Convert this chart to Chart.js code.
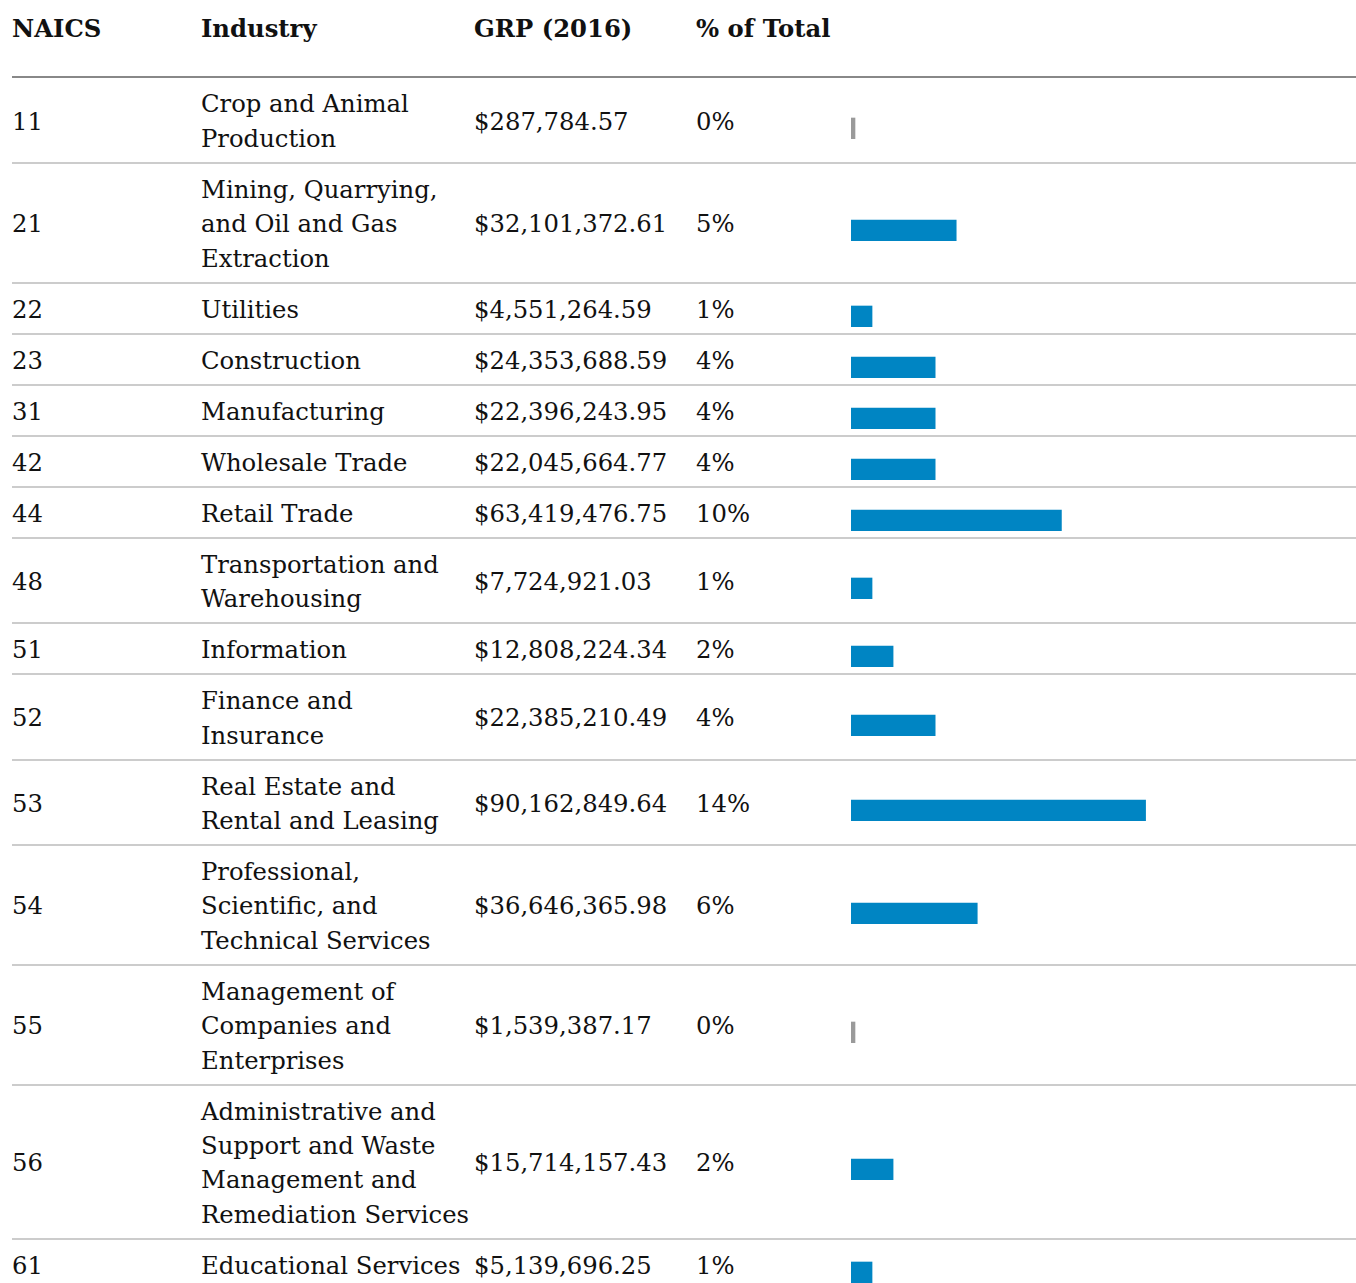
<!DOCTYPE html>
<html><head><meta charset="utf-8">
<script src="https://cdn.jsdelivr.net/npm/chart.js@4/dist/chart.umd.min.js"></script>
<style>
html,body{margin:0;padding:0;background:#fff;}
body{font-family:"DejaVu Serif",serif;font-size:24.3px;color:#111;}
table{position:absolute;left:12px;top:0;width:1344px;border-collapse:collapse;table-layout:fixed;}
th,td{padding:9px 0 5.58px 0;text-align:left;vertical-align:middle;line-height:34.42px;white-space:nowrap;}
th{font-weight:bold;padding:12px 0 30px 0;border-bottom:2px solid #888;}
td{border-bottom:2px solid #ccc;}
.barbox{position:relative;width:505px;height:34px;}
</style></head><body>
<table id="t"><colgroup><col style="width:189px"><col style="width:273px"><col style="width:222px"><col style="width:155px"><col style="width:505px"></colgroup>
<thead><tr id="hr"></tr></thead>
<tbody id="tb"></tbody></table>
<script>
const headers = ["NAICS", "Industry", "GRP (2016)", "% of Total", ""];
const naicsCodes = ["11","21","22","23","31","42","44","48","51","52","53","54","55","56","61"];
const industries = [
  ["Crop and Animal","Production"],
  ["Mining, Quarrying,","and Oil and Gas","Extraction"],
  ["Utilities"],
  ["Construction"],
  ["Manufacturing"],
  ["Wholesale Trade"],
  ["Retail Trade"],
  ["Transportation and","Warehousing"],
  ["Information"],
  ["Finance and","Insurance"],
  ["Real Estate and","Rental and Leasing"],
  ["Professional,","Scientific, and","Technical Services"],
  ["Management of","Companies and","Enterprises"],
  ["Administrative and","Support and Waste","Management and","Remediation Services"],
  ["Educational Services"]
];
const grpValues = [287784.57, 32101372.61, 4551264.59, 24353688.59, 22396243.95, 22045664.77, 63419476.75, 7724921.03, 12808224.34, 22385210.49, 90162849.64, 36646365.98, 1539387.17, 15714157.43, 5139696.25];
const pctOfTotal = [0, 5, 1, 4, 4, 4, 10, 1, 2, 4, 14, 6, 0, 2, 1];
const axisMax = 24;

const hr = document.getElementById('hr');
headers.forEach(h => { const th = document.createElement('th'); th.textContent = h; hr.appendChild(th); });

const tb = document.getElementById('tb');
naicsCodes.forEach((code, i) => {
  const tr = document.createElement('tr');
  const c1 = document.createElement('td'); c1.textContent = code; tr.appendChild(c1);
  const c2 = document.createElement('td');
  industries[i].forEach((line, k) => {
    if (k) c2.appendChild(document.createElement('br'));
    c2.appendChild(document.createTextNode(line));
  });
  tr.appendChild(c2);
  const c3 = document.createElement('td');
  c3.textContent = '$' + grpValues[i].toLocaleString('en-US', {minimumFractionDigits: 2, maximumFractionDigits: 2});
  tr.appendChild(c3);
  const c4 = document.createElement('td'); c4.textContent = pctOfTotal[i] + '%'; tr.appendChild(c4);
  const c5 = document.createElement('td');
  const box = document.createElement('div'); box.className = 'barbox';
  const cv = document.createElement('canvas'); box.appendChild(cv); c5.appendChild(box);
  tr.appendChild(c5);
  tb.appendChild(tr);

  new Chart(cv, {
    type: 'bar',
    data: {
      labels: [code],
      datasets: [{
        data: [pctOfTotal[i]],
        backgroundColor: pctOfTotal[i] === 0 ? '#9a9a9a' : '#0085c3',
        barThickness: 21,
        minBarLength: 4,
        borderWidth: 0,
        clip: false
      }]
    },
    options: {
      indexAxis: 'y',
      responsive: true,
      maintainAspectRatio: false,
      animation: false,
      events: [],
      layout: {padding: {top: 13, bottom: 0, left: 0, right: 0}},
      plugins: {legend: {display: false}, tooltip: {enabled: false}},
      scales: {
        x: {display: false, min: 0, max: axisMax},
        y: {display: false}
      }
    }
  });
});
</script>
</body></html>
